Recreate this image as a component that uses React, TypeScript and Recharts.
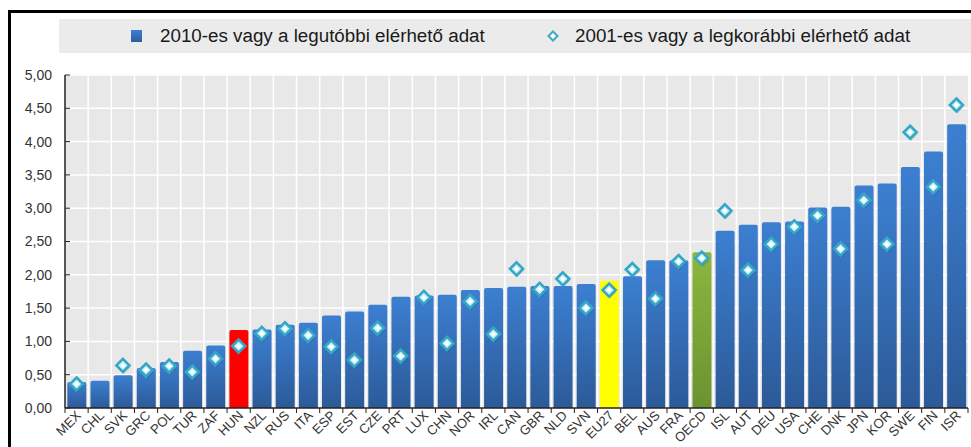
import React from 'react';
import { ComposedChart, Bar, Line, XAxis, YAxis, CartesianGrid, Cell } from 'recharts';

const countries = ['MEX','CHL','SVK','GRC','POL','TUR','ZAF','HUN','NZL','RUS','ITA','ESP','EST','CZE','PRT','LUX','CHN','NOR','IRL','CAN','GBR','NLD','SVN','EU27','BEL','AUS','FRA','OECD','ISL','AUT','DEU','USA','CHE','DNK','JPN','KOR','SWE','FIN','ISR'];
const latest = [0.39,0.41,0.49,0.60,0.69,0.86,0.94,1.17,1.18,1.25,1.28,1.39,1.45,1.55,1.67,1.69,1.70,1.77,1.80,1.82,1.83,1.83,1.86,1.91,1.98,2.22,2.22,2.34,2.66,2.75,2.79,2.80,3.01,3.02,3.34,3.37,3.62,3.85,4.26];
const earliest: (number | null)[] = [0.36,null,0.64,0.57,0.63,0.54,0.74,0.93,1.12,1.19,1.09,0.92,0.72,1.20,0.78,1.66,0.97,1.60,1.11,2.09,1.78,1.94,1.50,1.77,2.08,1.64,2.20,2.25,2.96,2.07,2.46,2.72,2.89,2.39,3.12,2.46,4.14,3.32,4.55];
const yTicks = [0,0.5,1,1.5,2,2.5,3,3.5,4,4.5,5];
const seriesNames = ['2010-es vagy a legutóbbi elérhető adat', '2001-es vagy a legkorábbi elérhető adat'];
const highlightFill: Record<string, string> = { HUN: '#ff0000', EU27: '#ffff00', OECD: 'url(#gradGreen)' };

const data = countries.map((c, i) => ({ name: c, latest: latest[i], earliest: earliest[i] }));

const FONT = '"Liberation Sans", Arial, sans-serif';
const N = countries.length;

const XTick = (props: any) => {
  const { x, y, payload, index } = props;
  const half = payload && payload.offset ? payload.offset : 903 / (2 * N);
  return (
    <g>
      {index === 0 && <line x1={x - half} x2={x - half} y1={y} y2={y + 5} stroke="#222" strokeWidth={1} />}
      <line x1={x + half} x2={x + half} y1={y} y2={y + 5} stroke="#222" strokeWidth={1} />
      <text
        x={x + 2}
        y={y + 5}
        transform={`rotate(-45, ${x + 2}, ${y + 5})`}
        textAnchor="end"
        dy="0.35em"
        fontSize={13.2}
        fontFamily={FONT}
        fill="#333"
      >
        {payload.value}
      </text>
    </g>
  );
};

const YTick = (props: any) => {
  const { x, y, payload } = props;
  return (
    <g>
      <line x1={x + 13} x2={x + 18} y1={y} y2={y} stroke="#222" strokeWidth={1} />
      <text x={x} y={y} textAnchor="end" dy="0.35em" fontSize={14} fontFamily={FONT} fill="#333">
        {Number(payload.value).toFixed(2).replace('.', ',')}
      </text>
    </g>
  );
};

const Diamond = (props: any) => {
  const { cx, cy, value, index } = props;
  if (value == null || cy == null || isNaN(cy)) return <g key={`d${index}`} />;
  const h = 6.5;
  return (
    <g key={`d${index}`}>
      <path
        d={`M${cx + 1},${cy - h + 2} L${cx + h + 1},${cy + 2} L${cx + 1},${cy + h + 2} L${cx - h + 1},${cy + 2} Z`}
        fill="rgba(0,0,0,0.15)"
        stroke="none"
      />
      <path
        d={`M${cx},${cy - h} L${cx + h},${cy} L${cx},${cy + h} L${cx - h},${cy} Z`}
        fill="#c9eff8"
        stroke="#36a6c6"
        strokeWidth={2.6}
      />
      <path
        d={`M${cx},${cy - 2.5} L${cx + 2.5},${cy} L${cx},${cy + 2.5} L${cx - 2.5},${cy} Z`}
        fill="#ffffff"
      />
    </g>
  );
};

const gridVertical = ({ offset }: any) => {
  const arr: number[] = [];
  for (let i = 1; i < N; i++) arr.push(offset.left + (i * offset.width) / N);
  return arr;
};

export default function App() {
  return (
    <div style={{ position: 'absolute', left: 0, top: 0, width: 971, height: 447, overflow: 'hidden', background: '#fff', fontFamily: FONT }}>
      <div style={{ position: 'absolute', left: 8, top: 10, width: 980, height: 460, borderTop: '3px solid #000', borderLeft: '3px solid #000' }} />
      <div style={{ position: 'absolute', left: 59, top: 19, width: 912, height: 34, background: '#ebebeb' }}>
        <div style={{ position: 'absolute', left: 72, top: 11, width: 11, height: 12, background: 'linear-gradient(#3d80d2, #2d5d9e)' }} />
        <div style={{ position: 'absolute', left: 101, top: 0, height: 34, lineHeight: '34px', fontSize: 18.8, color: '#1a1a1a', whiteSpace: 'nowrap' }}>{seriesNames[0]}</div>
        <svg style={{ position: 'absolute', left: 488, top: 11 }} width={12} height={12}>
          <path d="M6,1.5 L10.5,6 L6,10.5 L1.5,6 Z" fill="#fff" stroke="#3aa9c9" strokeWidth={2} />
        </svg>
        <div style={{ position: 'absolute', left: 516, top: 0, height: 34, lineHeight: '34px', fontSize: 18.8, color: '#1a1a1a', whiteSpace: 'nowrap' }}>{seriesNames[1]}</div>
      </div>
      <div style={{ position: 'absolute', left: 0, top: 0 }}>
        <ComposedChart
          width={971}
          height={447}
          data={data}
          margin={{ top: 75, right: 3, bottom: 0, left: 8 }}
          barCategoryGap="10%"
        >
          <defs>
            <linearGradient id="gradBlue" x1="0" y1="0" x2="0" y2="1">
              <stop offset="0%" stopColor="#3c7fd1" />
              <stop offset="100%" stopColor="#2c5a98" />
            </linearGradient>
            <linearGradient id="gradGreen" x1="0" y1="0" x2="0" y2="1">
              <stop offset="0%" stopColor="#8cb73f" />
              <stop offset="100%" stopColor="#6b9230" />
            </linearGradient>
          </defs>
          <CartesianGrid
            fill="#e8e8e8"
            stroke="#ffffff"
            strokeWidth={1.5}
            verticalCoordinatesGenerator={gridVertical}
          />
          <XAxis
            dataKey="name"
            interval={0}
            tickLine={false}
            tickSize={0}
            tickMargin={0}
            axisLine={{ stroke: '#222', strokeWidth: 1.5 }}
            tick={<XTick />}
            height={39}
          />
          <YAxis
            domain={[0, 5]}
            ticks={yTicks}
            width={57}
            tickLine={false}
            tickSize={0}
            tickMargin={13}
            axisLine={{ stroke: '#222', strokeWidth: 1.5 }}
            tick={<YTick />}
            allowDataOverflow
          />
          <Bar dataKey="latest" name={seriesNames[0]} isAnimationActive={false} radius={[2, 2, 0, 0]}>
            {data.map((d) => (
              <Cell key={d.name} fill={highlightFill[d.name] || 'url(#gradBlue)'} />
            ))}
          </Bar>
          <Line
            dataKey="earliest"
            name={seriesNames[1]}
            stroke="none"
            strokeWidth={0}
            dot={Diamond}
            activeDot={false}
            isAnimationActive={false}
            connectNulls={false}
          />
        </ComposedChart>
      </div>
    </div>
  );
}
